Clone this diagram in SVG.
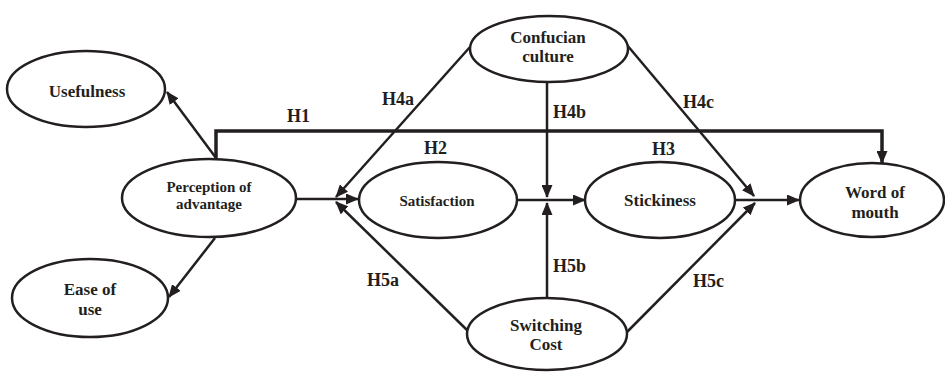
<svg xmlns="http://www.w3.org/2000/svg" width="945" height="372" viewBox="0 0 945 372">
<style>
.node{fill:#fff;stroke:#231f20;stroke-width:2.5}
.t{font-family:"Liberation Serif","Times New Roman",serif;font-weight:bold;fill:#231f20;text-anchor:middle}
.big{font-size:17px}
.sm{font-size:15px}
.lab{font-family:"Liberation Serif","Times New Roman",serif;font-weight:bold;fill:#231f20;font-size:18px}
.c{fill:none;stroke:#231f20;stroke-width:2.5;marker-end:url(#ah)}
</style>
<defs>
<marker id="ah" markerUnits="userSpaceOnUse" markerWidth="13" markerHeight="11" refX="12" refY="5.5" orient="auto">
<path d="M0,0 L13,5.5 L0,11 z" fill="#231f20"/>
</marker>
</defs>
<g id="connectors">
<path class="c" d="M216,158 L167,92"/>
<path class="c" d="M215,238 L169,297"/>
<path class="c" d="M216,160 V131 H882 V163" style="stroke-width:3.5"/>
<path class="c" d="M296,199 L358,199"/>
<path class="c" d="M470,47 L336,197"/>
<path class="c" d="M468,331 L336,202"/>
<path class="c" d="M517,200 L585,200"/>
<path class="c" d="M547,82 L547,197"/>
<path class="c" d="M547,297 L547,203"/>
<path class="c" d="M735,200 L799,200"/>
<path class="c" d="M627,45 L754,196"/>
<path class="c" d="M626,333 L755,203"/>
</g>
<g id="labels">
<text class="lab" x="287" y="122">H1</text>
<text class="lab" x="382" y="105">H4a</text>
<text class="lab" x="553" y="118">H4b</text>
<text class="lab" x="424" y="154">H2</text>
<text class="lab" x="652" y="155">H3</text>
<text class="lab" x="683" y="108">H4c</text>
<text class="lab" x="367" y="286">H5a</text>
<text class="lab" x="553" y="272">H5b</text>
<text class="lab" x="693" y="287">H5c</text>
</g>
<g id="usefulness">
<ellipse class="node" cx="86" cy="89" rx="79" ry="38"/>
<text class="t big" x="87" y="97">Usefulness</text>
</g>
<g id="perception">
<ellipse class="node" cx="209" cy="198" rx="87" ry="39"/>
<text class="t sm" x="209" y="192">Perception of</text>
<text class="t sm" x="209" y="209">advantage</text>
</g>
<g id="ease">
<ellipse class="node" cx="90" cy="298" rx="78" ry="39"/>
<text class="t big" x="90" y="295">Ease of</text>
<text class="t big" x="90" y="315">use</text>
</g>
<g id="confucian">
<ellipse class="node" cx="549" cy="49" rx="79" ry="33"/>
<text class="t big" x="548" y="43">Confucian</text>
<text class="t big" x="548" y="62">culture</text>
</g>
<g id="satisfaction">
<ellipse class="node" cx="438" cy="200" rx="79" ry="38"/>
<text class="t sm" x="437" y="206">Satisfaction</text>
</g>
<g id="stickiness">
<ellipse class="node" cx="660" cy="200" rx="75" ry="38"/>
<text class="t big" x="660" y="206">Stickiness</text>
</g>
<g id="wom">
<ellipse class="node" cx="872" cy="200" rx="72" ry="37"/>
<text class="t big" x="875" y="198">Word of</text>
<text class="t big" x="875" y="218">mouth</text>
</g>
<g id="switching">
<ellipse class="node" cx="547" cy="334" rx="80" ry="36"/>
<text class="t big" x="546" y="331">Switching</text>
<text class="t big" x="546" y="350">Cost</text>
</g>
</svg>
